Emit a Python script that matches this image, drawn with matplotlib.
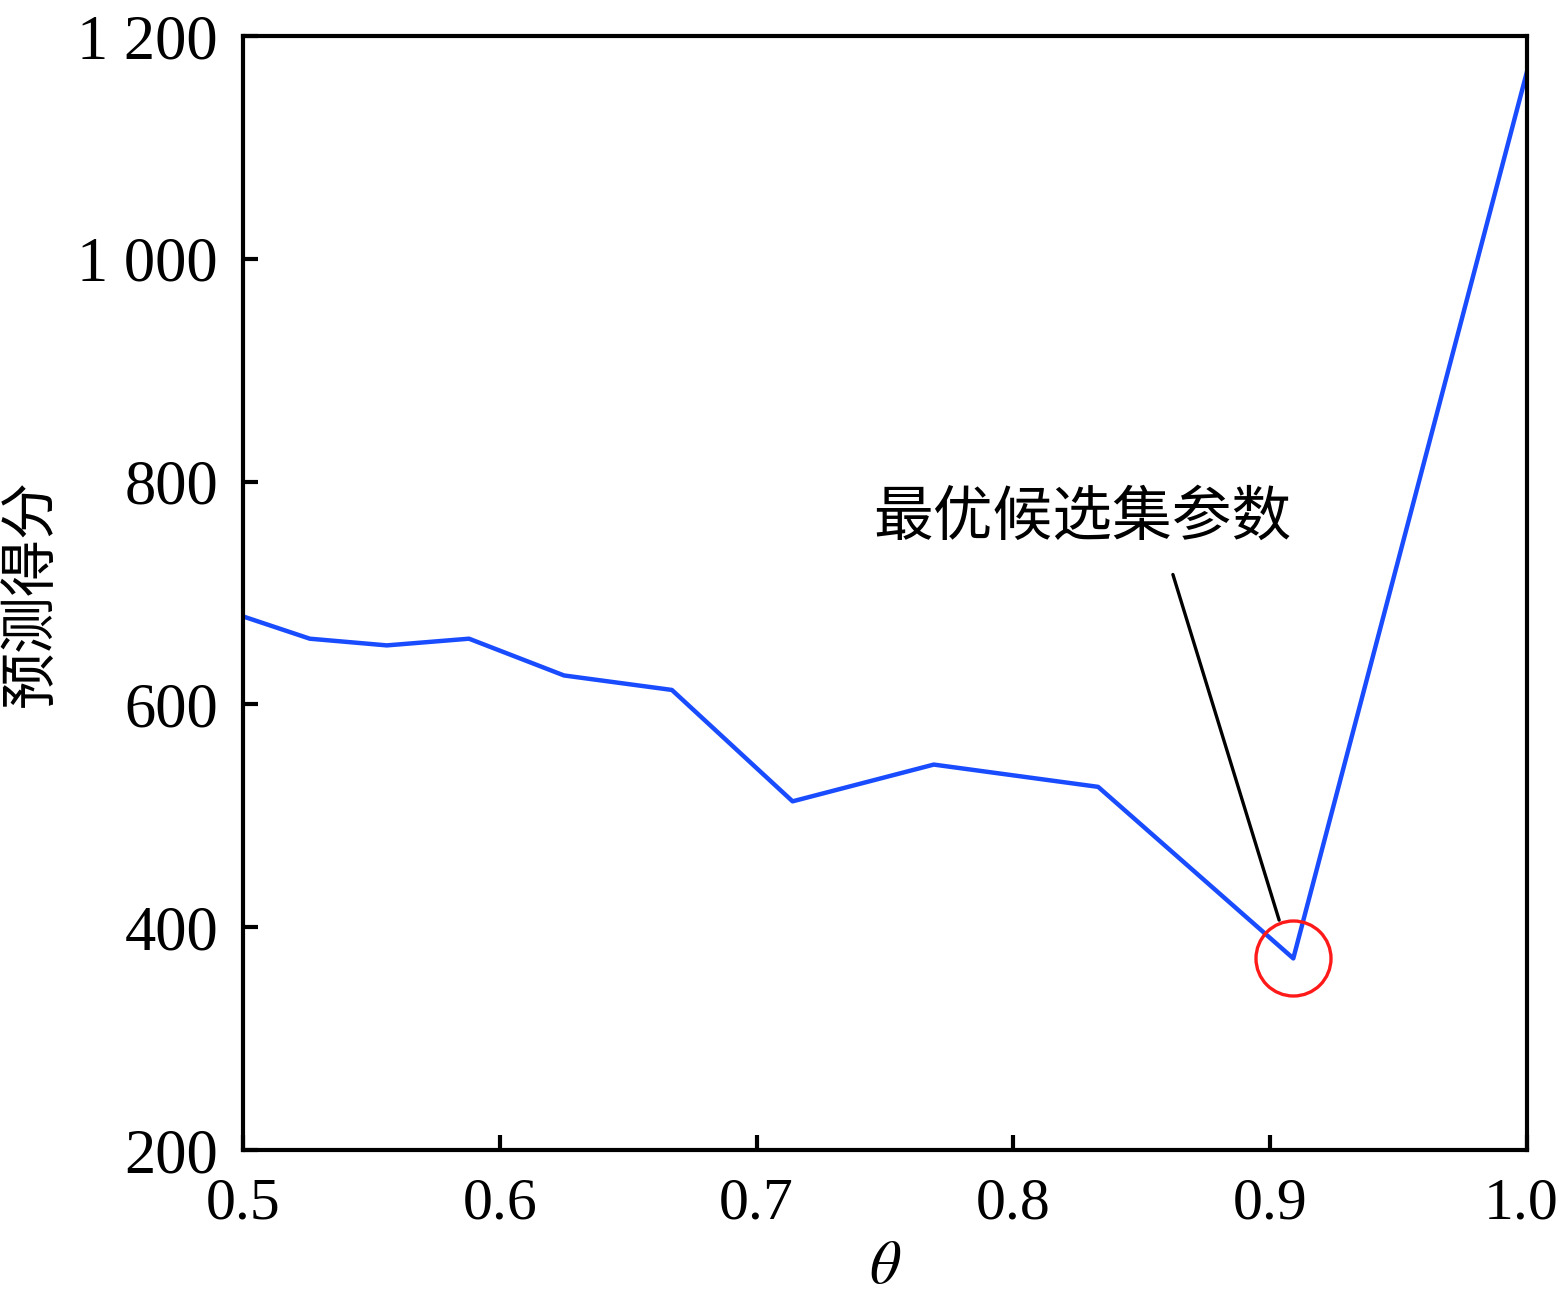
import matplotlib
matplotlib.use("Agg")
import matplotlib.pyplot as plt
import matplotlib.transforms as mtransforms
from matplotlib.ticker import FuncFormatter

plt.rcParams["mathtext.fontset"] = "stix"

# theta values and predicted scores
theta = [0.5, 0.526, 0.556, 0.588, 0.625, 0.667, 0.714, 0.769, 0.833, 0.909, 1.0]
score = [679, 659, 653, 659, 626, 613, 513, 546, 526, 372, 1168]
best_idx = 9

x_ticks = [0.5, 0.6, 0.7, 0.8, 0.9, 1.0]
y_ticks = [200, 400, 600, 800, 1000, 1200]

serif = ["Liberation Serif", "DejaVu Serif"]
cjk = ["Noto Sans CJK SC", "DejaVu Sans"]

fig = plt.figure(figsize=(15.61, 13.11), dpi=100)
ax = fig.add_axes([0.1557, 0.1228, 0.8225, 0.8497])

ax.plot(theta, score, color="#1a4cff", lw=3.2)
ax.plot(theta[best_idx], score[best_idx], marker="o", ms=54, mfc="none",
        mec="#ff1a1a", mew=2.4)

ax.set_xlim(0.5, 1.0)
ax.set_ylim(200, 1200)
ax.set_xticks(x_ticks)
ax.set_yticks(y_ticks)
ax.xaxis.set_major_formatter(FuncFormatter(lambda v, p: f"{v:.1f}"))
ax.yaxis.set_major_formatter(FuncFormatter(lambda v, p: f"{int(v):,}".replace(",", " ")))

for s in ax.spines.values():
    s.set_linewidth(3)
ax.tick_params(direction="in", length=11, width=3, top=False, right=False)
ax.tick_params(axis="x", pad=20)
ax.tick_params(axis="y", pad=18)
for lab in ax.get_xticklabels():
    lab.set_family(serif)
    lab.set_fontsize(43)
for lab in ax.get_yticklabels():
    lab.set_family(serif)
    lab.set_fontsize(45)

# nudge the last x label so it stays inside the figure
last = ax.get_xticklabels()[-1]
last.set_transform(last.get_transform() +
                   mtransforms.ScaledTranslation(-6 / 100, 0, fig.dpi_scale_trans))

ax.set_xlabel(r"$\theta$", fontsize=44, labelpad=4)
ax.set_ylabel("预测得分", family=cjk, fontsize=41)
ax.yaxis.set_label_coords(-0.143, 0.5)

ax.text(0.8267, 767, "最优候选集参数", family=cjk, fontsize=43,
        ha="center", va="center")
ax.annotate("", xy=(0.9038, 404), xytext=(0.8618, 719),
            arrowprops=dict(arrowstyle="-", color="black", lw=2.4))

fig.savefig("out.png", dpi=100)
